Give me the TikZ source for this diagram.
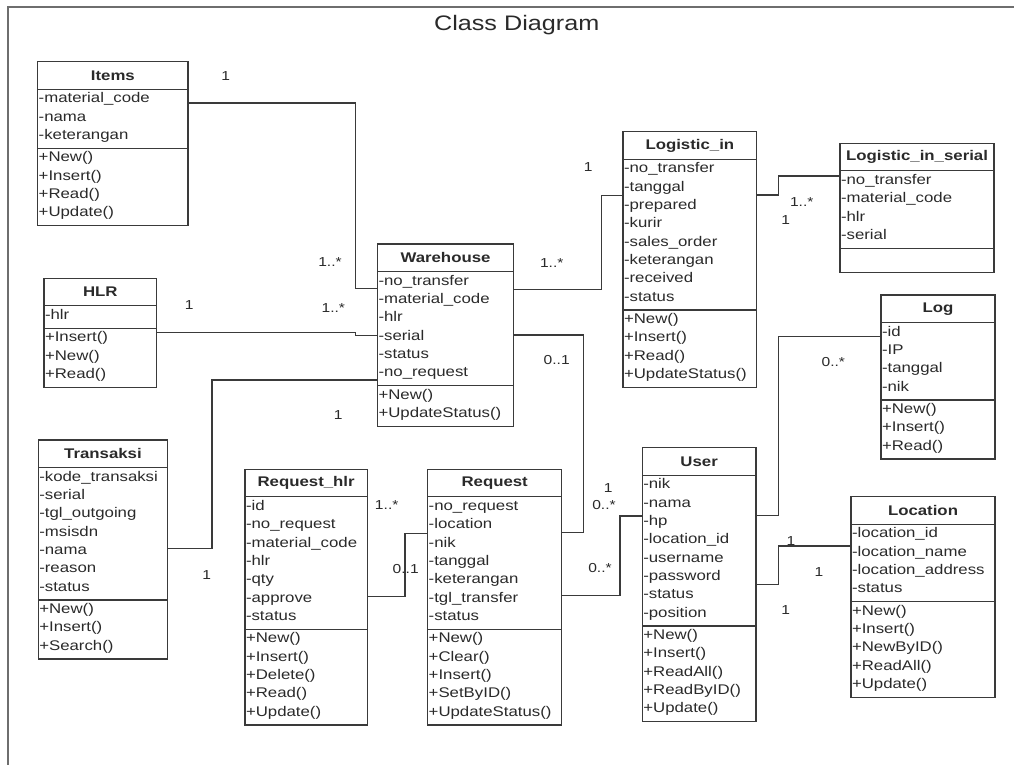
\documentclass[tikz,border=0pt]{standalone}
\usepackage{fontspec}
\setmainfont{Liberation Sans}[FakeStretch=1.2]
\definecolor{inkdark}{HTML}{2A2A2A}
\definecolor{linedark}{HTML}{3A3A3A}
\definecolor{framegray}{HTML}{6E6E6E}

% A UML class box: name, left x, top y, width, title,
% number of attributes, attributes, number of methods, methods
\newcommand\umlclass[9]{%
  \pgfmathsetmacro\ucH{27.5}%
  \pgfmathsetmacro\ucA{#6*18.35+4}%
  \pgfmathsetmacro\ucM{max(#8*18.35+4,24)}%
  \pgfmathsetmacro\ucT{\ucH+\ucA+\ucM}%
  \node[classbox, minimum width=#4pt, minimum height=\ucT pt, anchor=north west] (#1) at (#2,#3) {};
  \draw[classline] (#2,#3+\ucH) -- ++(#4,0);
  \draw[classline] (#2,#3+\ucH+\ucA) -- ++(#4,0);
  \node[classtitle] (#1-title) at (#2+#4/2,#3+\ucH/2) {#5};
  \foreach \ucitem [count=\ucidx] in {#7}
    {\node[classrow] (#1-a\ucidx) at (#2,#3+\ucH+10+\ucidx*18.35-18.35) {\ucitem};}
  \ifnum#8>0
    \foreach \ucitem [count=\ucidx] in {#9}
      {\node[classrow] (#1-m\ucidx) at (#2,#3+\ucH+\ucA+10+\ucidx*18.35-18.35) {\ucitem};}
  \fi
}

\begin{document}
\begin{tikzpicture}[x=1pt,y=-1pt,
  classbox/.style={draw=linedark, line width=1.3pt, inner sep=0pt, outer sep=0pt},
  classline/.style={draw=linedark, line width=1.3pt},
  classtitle/.style={text=inkdark, font=\fontsize{14}{16}\selectfont\bfseries, inner sep=0pt},
  classrow/.style={text=inkdark, anchor=west, inner xsep=0.8pt, inner ysep=0pt,
    text height=10pt, text depth=3pt, font=\fontsize{14}{16}\selectfont},
  assoc/.style={draw=linedark, line width=1.3pt},
  mult/.style={text=inkdark, inner sep=0pt, font=\fontsize{13}{15}\selectfont}]
\useasboundingbox (0,0) rectangle (1014,765);
\fill[white] (0,0) rectangle (1014,765);

% frame
\draw[framegray, line width=2.2pt] (8.3,765) -- (8.3,7) -- (1014,7);
\node[text=inkdark, font=\fontsize{21}{24}\selectfont, inner sep=0pt] (title) at (516.7,25) {Class Diagram};

% classes
\umlclass{items}{37.7}{61.7}{150.3}{Items}{3}{-material\_code,-nama,-keterangan}{4}{+New(),+Insert(),+Read(),+Update()}
\umlclass{wh}{377.5}{244}{136}{Warehouse}{6}{-no\_transfer,-material\_code,-hlr,-serial,-status,-no\_request}{2}{+New(),+UpdateStatus()}
\umlclass{login}{623}{131.7}{133.7}{Logistic\_in}{8}{-no\_transfer,-tanggal,-prepared,-kurir,-sales\_order,-keterangan,-received,-status}{4}{+New(),+Insert(),+Read(),+UpdateStatus()}
\umlclass{lis}{840}{143.3}{154}{Logistic\_in\_serial}{4}{-no\_transfer,-material\_code,-hlr,-serial}{0}{}
\umlclass{hlr}{44}{278.3}{112.7}{HLR}{1}{-hlr}{3}{+Insert(),+New(),+Read()}
\umlclass{log}{881}{295}{114}{Log}{4}{-id,-IP,-tanggal,-nik}{3}{+New(),+Insert(),+Read()}
\umlclass{trans}{38.3}{440}{129.4}{Transaksi}{7}{-kode\_transaksi,-serial,-tgl\_outgoing,-msisdn,-nama,-reason,-status}{3}{+New(),+Insert(),+Search()}
\umlclass{reqhlr}{245}{469.3}{122.3}{Request\_hlr}{7}{-id,-no\_request,-material\_code,-hlr,-qty,-approve,-status}{5}{+New(),+Insert(),+Delete(),+Read(),+Update()}
\umlclass{req}{427.7}{469.3}{134}{Request}{7}{-no\_request,-location,-nik,-tanggal,-keterangan,-tgl\_transfer,-status}{5}{+New(),+Clear(),+Insert(),+SetByID(),+UpdateStatus()}
\umlclass{user}{642.3}{447.7}{113.7}{User}{8}{-nik,-nama,-hp,-location\_id,-username,-password,-status,-position}{5}{+New(),+Insert(),+ReadAll(),+ReadByID(),+Update()}
\umlclass{loc}{851}{496.7}{144}{Location}{4}{-location\_id,-location\_name,-location\_address,-status}{5}{+New(),+Insert(),+NewByID(),+ReadAll(),+Update()}

% associations
\draw[assoc] (items.east |- 0,103) -| (355.7,288.3) -- (wh.west |- 0,288.3);
\draw[assoc] (hlr.east |- 0,332.7) -- (355.7,332.7) -- (355.7,335.3) -- (wh.west |- 0,335.3);
\draw[assoc] (wh.west |- 0,380) -| (212,548.3) -- (trans.east |- 0,548.3);
\draw[assoc] (wh.east |- 0,289.3) -| (601.7,195.7) -- (login.west |- 0,195.7);
\draw[assoc] (login.east |- 0,195) -| (778.3,176) -- (lis.west |- 0,176);
\draw[assoc] (wh.east |- 0,335) -| (583.3,532.7) -- (req.east |- 0,532.7);
\draw[assoc] (reqhlr.east |- 0,596.7) -| (405,533.3) -- (req.west |- 0,533.3);
\draw[assoc] (req.east |- 0,595.7) -| (620,516) -- (user.west |- 0,516);
\draw[assoc] (log.west |- 0,336.7) -| (778.3,515.7) -- (user.east |- 0,515.7);
\draw[assoc] (user.east |- 0,584.3) -| (778.3,546) -- (loc.west |- 0,546);

% multiplicities
\node[mult] (m1) at (225.7,75.7) {1};
\node[mult] (m2) at (330,262.3) {1..*};
\node[mult] (m3) at (189.3,305) {1};
\node[mult] (m4) at (333.3,308.3) {1..*};
\node[mult] (m5) at (338.3,415) {1};
\node[mult] (m6) at (206.7,575) {1};
\node[mult] (m7) at (588.3,166.7) {1};
\node[mult] (m8) at (551.7,262.7) {1..*};
\node[mult] (m9) at (801.7,201.7) {1..*};
\node[mult] (m10) at (785.7,220) {1};
\node[mult] (m11) at (556.7,360) {0..1};
\node[mult] (m12) at (833.3,361.7) {0..*};
\node[mult] (m13) at (386.7,505) {1..*};
\node[mult] (m14) at (405.7,569) {0..1};
\node[mult] (m15) at (608.3,488.3) {1};
\node[mult] (m16) at (604,505) {0..*};
\node[mult] (m17) at (600,568.5) {0..*};
\node[mult] (m18) at (791,540.7) {1};
\node[mult] (m19) at (819,572.3) {1};
\node[mult] (m20) at (785.7,610) {1};
\end{tikzpicture}
\end{document}
